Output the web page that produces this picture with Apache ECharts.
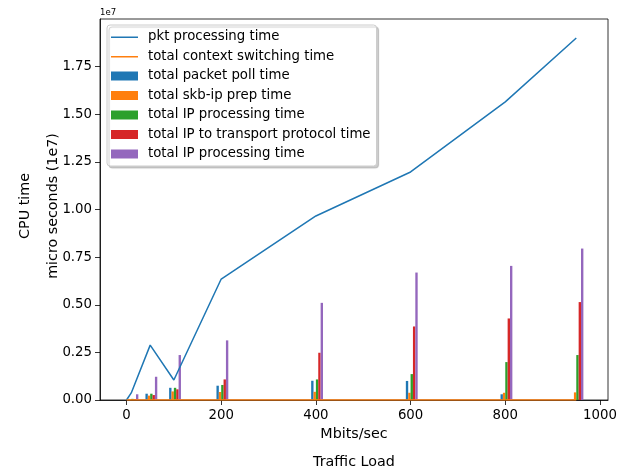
<!DOCTYPE html>
<html>
<head>
<meta charset="utf-8">
<script src="https://cdn.jsdelivr.net/npm/echarts@6/dist/echarts.min.js"></script>
<style>
html,body{margin:0;padding:0;background:#fff;}
#chart{width:624px;height:468px;}
</style>
</head>
<body>
<div id="chart"></div>
<script>
// ---- data ----
var lineX = [0, 10, 50, 100, 200, 400, 600, 800, 950];
var pktProcessing = [0, 0.37e6, 2.88e6, 1.05e6, 6.35e6, 9.66e6, 11.97e6, 15.65e6, 19.0e6];
var contextSwitching = [0, 0, 0, 0, 0, 0, 0, 0, 0];
var loads = [10, 50, 100, 200, 400, 600, 800, 950];
var packetPoll = [0.02e6, 0.33e6, 0.64e6, 0.75e6, 1.01e6, 1.0e6, 0.3e6, 0.02e6];
var skbIpPrep = [0.05e6, 0.23e6, 0.45e6, 0.42e6, 0.43e6, 0.38e6, 0.38e6, 0.4e6];
var ipProcessing = [0.06e6, 0.33e6, 0.64e6, 0.79e6, 1.08e6, 1.36e6, 1.99e6, 2.36e6];
var ipToTransport = [0.04e6, 0.26e6, 0.56e6, 1.08e6, 2.48e6, 3.86e6, 4.28e6, 5.14e6];
var ipTotal = [0.3e6, 1.22e6, 2.36e6, 3.13e6, 5.1e6, 6.69e6, 7.04e6, 7.95e6];
var lineNames = ['pkt processing time', 'total context switching time'];
var barNames = ['total packet poll time', 'total skb-ip prep time', 'total IP processing time',
                'total IP to transport protocol time', 'total IP processing time'];
var xTicks = [0, 200, 400, 600, 800, 1000];
var yTicks = [0, 2.5e6, 5e6, 7.5e6, 1e7, 1.25e7, 1.5e7, 1.75e7];

// ---- styling ----
var FONT = 'DejaVu Sans';
var lineColors = ['#1f77b4', '#ff7f0e'];
var barColors = ['#1f77b4', '#ff7f0e', '#2ca02c', '#d62728', '#9467bd'];
var barOffsets = [-7.5, -2.5, 2.5, 7.5, 12.5];
var BAR_W = 5;
var barSeriesValues = [packetPoll, skbIpPrep, ipProcessing, ipToTransport, ipTotal];
var LINE_ICON = 'path://M0,0 L0,0.01 Z M0,4 L27,4 L27,5.5 L0,5.5 Z M0,9 L0,9.01 Z';
// unique internal keys (two series share a label)
function key(name, i) { return name + '\u200b'.repeat(i); }

var series = [];
var legendData = [];
[pktProcessing, contextSwitching].forEach(function (vals, i) {
  var nm = key(lineNames[i], 0);
  series.push({
    name: nm, type: 'line', symbol: 'none', z: 4,
    data: lineX.map(function (x, j) { return [x, vals[j]]; }),
    lineStyle: { color: lineColors[i], width: 1.5 },
    itemStyle: { color: lineColors[i] },
    emphasis: { disabled: true }, animation: false
  });
  legendData.push({ name: nm, icon: LINE_ICON });
});
barSeriesValues.forEach(function (vals, i) {
  var nm = key(barNames[i], i === 4 ? 1 : 0);
  var col = barColors[i];
  var off = barOffsets[i];
  series.push({
    name: nm, type: 'custom', z: 2,
    itemStyle: { color: col },
    data: loads.map(function (g, j) { return [g + off, vals[j]]; }),
    renderItem: function (params, api) {
      var x = api.value(0), y = api.value(1);
      var p0 = api.coord([x - BAR_W / 2, y]);
      var p1 = api.coord([x + BAR_W / 2, 0]);
      return { type: 'rect',
        shape: { x: p0[0], y: p0[1], width: p1[0] - p0[0], height: p1[1] - p0[1] },
        style: { fill: col } };
    },
    animation: false
  });
  legendData.push({ name: nm, icon: 'rect' });
});

var chart = echarts.init(document.getElementById('chart'), null, { renderer: 'canvas' });
chart.setOption({
  animation: false,
  textStyle: { fontFamily: FONT },
  grid: { left: 100, right: 16, top: 19, bottom: 68, show: true, borderColor: '#000', borderWidth: 0.8, backgroundColor: 'transparent' },
  xAxis: {
    type: 'value', min: -56, max: 1017,
    name: 'Mbits/sec', nameLocation: 'middle', nameGap: 22,
    nameTextStyle: { fontFamily: FONT, fontSize: 14.3, color: '#000' },
    axisLine: { show: true, onZero: false, lineStyle: { color: '#000', width: 0.8 } },
    axisTick: { show: true, length: 5, lineStyle: { color: '#000', width: 0.8 }, customValues: xTicks },
    axisLabel: { fontFamily: FONT, fontSize: 13.3, color: '#000', margin: 9, customValues: xTicks,
      formatter: function (v) { return String(v); } },
    splitLine: { show: false }
  },
  yAxis: {
    type: 'value', min: 0, max: 2e7,
    axisLine: { show: true, onZero: false, lineStyle: { color: '#000', width: 0.8 } },
    axisTick: { show: true, length: 5, lineStyle: { color: '#000', width: 0.8 }, customValues: yTicks },
    axisLabel: { fontFamily: FONT, fontSize: 13.3, color: '#000', margin: 8, customValues: yTicks,
      formatter: function (v) { return (v / 1e7).toFixed(2); } },
    splitLine: { show: false }
  },
  legend: {
    orient: 'vertical', left: 107, top: 25,
    data: legendData,
    itemWidth: 27, itemHeight: 9, itemGap: 4.5,
    padding: [4.5, 6, 4.5, 4],
    backgroundColor: '#ffffff',
    borderColor: '#cccccc', borderWidth: 1, borderRadius: 3,
    shadowColor: 'rgba(0,0,0,0.2)', shadowBlur: 1, shadowOffsetX: 2, shadowOffsetY: 2,
    selectedMode: false,
    formatter: function (n) { return n.replace(/\u200b/g, ''); },
    textStyle: { fontFamily: FONT, fontSize: 13.3, color: '#000', lineHeight: 15, padding: [0, 0, 0, 5] }
  },
  graphic: [
    { type: 'text', x: 100, y: 13, style: { text: '1e7', font: '8.5px "DejaVu Sans"', fill: '#000', textVerticalAlign: 'middle' } },
    { type: 'text', x: 354, y: 462, style: { text: 'Traffic Load', font: '14.3px "DejaVu Sans"', fill: '#000', textAlign: 'center', textVerticalAlign: 'middle' } },
    { type: 'text', x: 25, y: 206, rotation: Math.PI / 2, style: { text: 'CPU time', font: '14.3px "DejaVu Sans"', fill: '#000', textAlign: 'center', textVerticalAlign: 'middle' } },
    { type: 'text', x: 53, y: 206, rotation: Math.PI / 2, style: { text: 'micro seconds (1e7)', font: '14.3px "DejaVu Sans"', fill: '#000', textAlign: 'center', textVerticalAlign: 'middle' } }
  ],
  series: series
});
</script>
</body>
</html>
